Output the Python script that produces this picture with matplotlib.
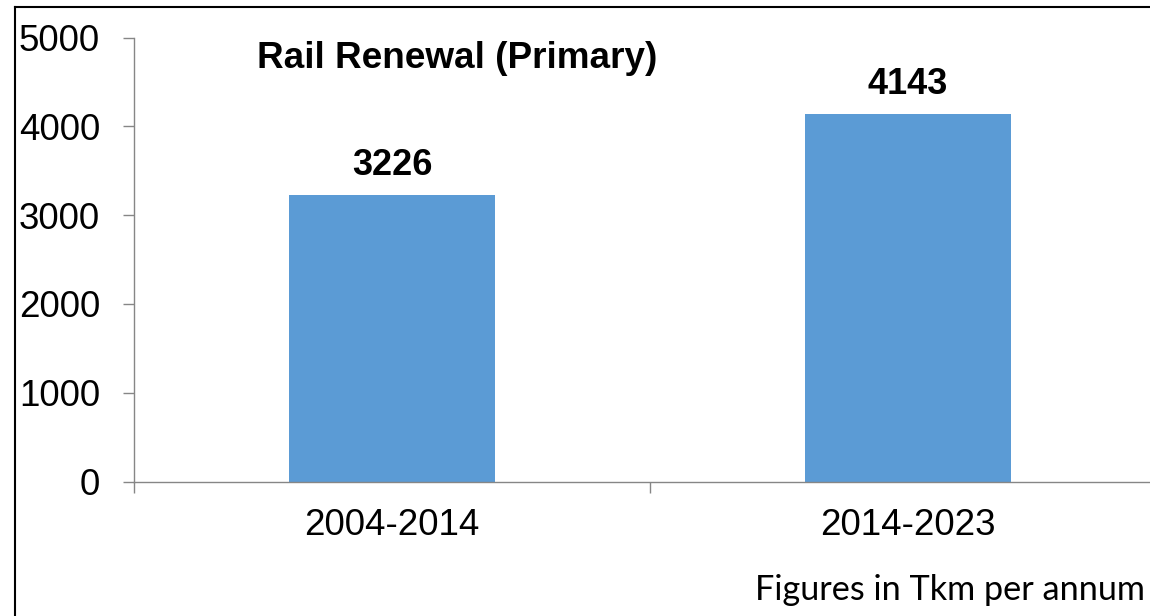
import matplotlib
matplotlib.use("Agg")
import matplotlib.pyplot as plt
from matplotlib.lines import Line2D

periods = ["2004-2014", "2014-2023"]
renewal = [3226, 4143]
yticks = [0, 1000, 2000, 3000, 4000, 5000]

plt.rcParams['font.family'] = ['Liberation Sans', 'DejaVu Sans']

W, H = 1150, 616
fig = plt.figure(figsize=(W / 100, H / 100), dpi=100)
ax = fig.add_axes([134 / W, 1 - 481.5 / H, 1032 / W, 444 / H])

x = list(range(len(periods)))
bars = ax.bar(x, renewal, width=0.4, color='#5B9BD5')

ax.set_xlim(-0.5, len(periods) - 0.5)
ax.set_ylim(0, 5000)
ax.set_yticks(yticks)
ax.set_yticklabels([str(t) for t in yticks])
ax.set_xticks(x)
ax.set_xticklabels(periods)
ax.set_xticks([i - 0.5 for i in range(len(periods) + 1)], minor=True)

for s in ['top', 'right']:
    ax.spines[s].set_visible(False)
for s in ['left', 'bottom']:
    ax.spines[s].set_color('#868686')
    ax.spines[s].set_linewidth(1.0)

ax.tick_params(axis='y', length=8, width=1.0, color='#868686', pad=16.5,
               labelsize=26.5, labelcolor='black')
ax.tick_params(axis='x', which='major', length=0, pad=19, labelsize=26.5)
ax.tick_params(axis='x', which='minor', length=8, width=1.0, color='#868686')

for b, v in zip(bars, renewal):
    ax.annotate(str(v), (b.get_x() + b.get_width() / 2, v),
                xytext=(0, 14.4), textcoords='offset points',
                ha='center', va='baseline', fontsize=26, fontweight='bold')

fig.text(257 / W, 1 - 68 / H, "Rail Renewal (Primary)", fontsize=26.6,
         fontweight='bold', ha='left', va='baseline')
fig.text(1145 / W, 1 - 600 / H, "Figures in Tkm per annum", fontsize=24.7,
         family=['Lato', 'DejaVu Sans'], ha='right', va='baseline')

# frame lines on left and top
fig.add_artist(Line2D([15 / W, 15 / W], [0, 1 - 7 / H], color='black', linewidth=1.5))
fig.add_artist(Line2D([15 / W, 1], [1 - 7 / H, 1 - 7 / H], color='black', linewidth=1.5))

fig.savefig("out.png", dpi=100)
